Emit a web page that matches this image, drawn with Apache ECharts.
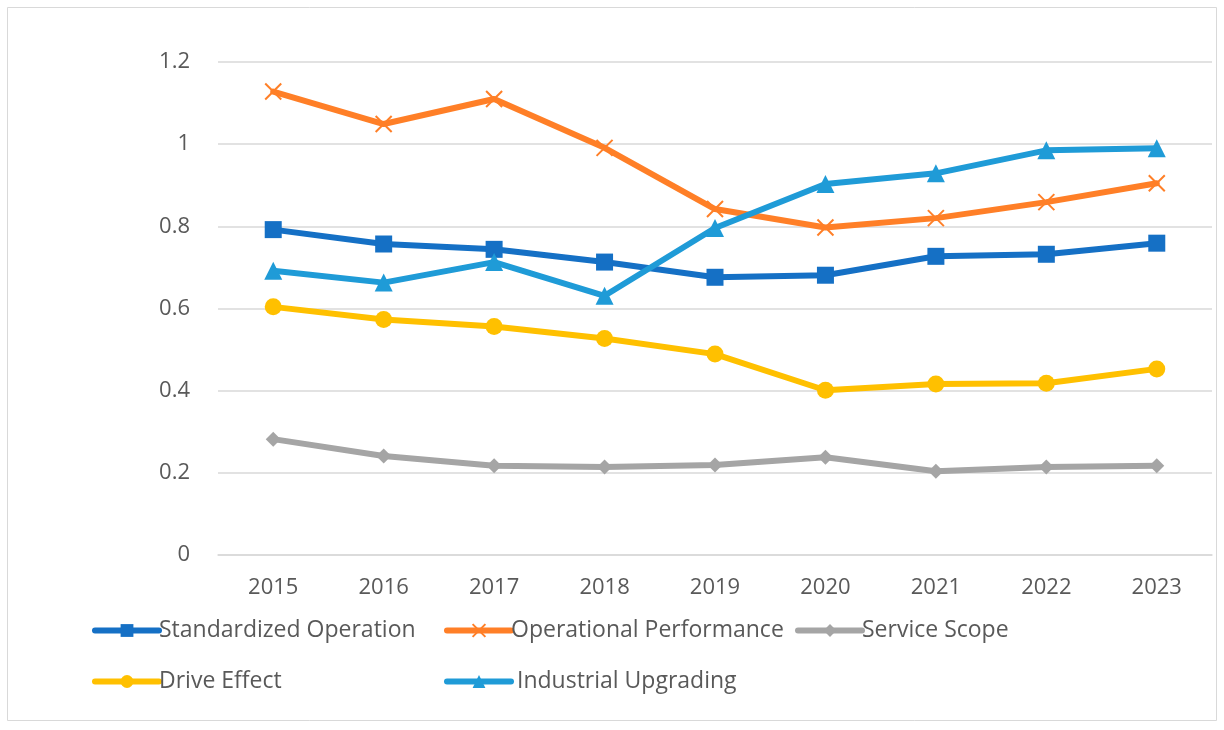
<!DOCTYPE html>
<html>
<head>
<meta charset="utf-8">
<script src="https://cdn.jsdelivr.net/npm/echarts@6/dist/echarts.min.js"></script>
<style>
  html, body { margin: 0; padding: 0; background: #fff; }
  #chart { width: 1224px; height: 730px; }
</style>
</head>
<body>
<div id="chart"></div>
<script>
const years = ['2015', '2016', '2017', '2018', '2019', '2020', '2021', '2022', '2023'];
const standardized = [0.792, 0.757, 0.744, 0.713, 0.676, 0.681, 0.727, 0.732, 0.759];
const operational = [1.128, 1.049, 1.110, 0.991, 0.842, 0.797, 0.820, 0.859, 0.905];
const serviceScope = [0.282, 0.241, 0.217, 0.214, 0.219, 0.238, 0.204, 0.214, 0.217];
const driveEffect = [0.604, 0.573, 0.556, 0.527, 0.489, 0.401, 0.416, 0.418, 0.453];
const industrial = [0.692, 0.663, 0.713, 0.631, 0.796, 0.903, 0.929, 0.985, 0.990];

const font = 'Open Sans, sans-serif';
const textColor = '#595959';

const myChart = echarts.init(document.getElementById('chart'));

function line(name, data, color, symbol, size, extra) {
    let s = {
        name: name,
        type: 'line',
        data: data,
        symbol: symbol,
        symbolSize: size,
        lineStyle: { color: color, width: 6, cap: 'round', join: 'round' },
        itemStyle: { color: color },
        emphasis: { disabled: true },
        animation: false
    };
    return Object.assign(s, extra || {});
}

const legendBase = {
    orient: 'vertical',
    top: 614,
    itemGap: 28,
    itemWidth: 64,
    itemHeight: 16,
    lineStyle: { width: 6, cap: 'round' },
    // Industrial Upgrading has a leading space in the original legend
    formatter: name => name === 'Industrial Upgrading' ? ' ' + name : name,
    textStyle: { fontFamily: font, fontSize: 23, color: textColor, padding: [0, 0, 0, -5] }
};

const option = {
    backgroundColor: '#fff',
    graphic: [{
        type: 'rect',
        shape: { x: 7.5, y: 7.5, width: 1209, height: 713 },
        style: { fill: 'none', stroke: '#d9d9d9', lineWidth: 1 },
        silent: true
    }],
    grid: { left: 218, right: 12, top: 62, bottom: 175 },
    legend: [
        Object.assign({ left: 87, data: ['Standardized Operation', 'Drive Effect'] }, legendBase),
        Object.assign({ left: 439, data: ['Operational Performance', 'Industrial Upgrading'] }, legendBase),
        Object.assign({ left: 790, data: ['Service Scope'] }, legendBase)
    ],
    xAxis: {
        type: 'category',
        data: years,
        boundaryGap: true,
        axisLine: { show: true, lineStyle: { color: '#d9d9d9', width: 1.5 } },
        axisTick: { show: false },
        axisLabel: { fontFamily: font, fontSize: 22, color: textColor, margin: 22 }
    },
    yAxis: {
        type: 'value',
        min: 0,
        max: 1.2,
        interval: 0.2,
        axisLine: { show: false },
        axisTick: { show: false },
        splitLine: { lineStyle: { color: '#d9d9d9', width: 1.5 } },
        axisLabel: {
            fontFamily: font, fontSize: 22, color: textColor, margin: 28,
            formatter: v => String(Math.round(v * 10) / 10)
        }
    },
    series: [
        line('Standardized Operation', standardized, '#1570c5', 'rect', 17),
        line('Operational Performance', operational, '#ff7f27',
            'path://M0,0 L10,10 M10,0 L0,10', 16,
            { itemStyle: { color: 'rgba(0,0,0,0)', borderColor: '#ff7f27', borderWidth: 2 } }),
        line('Service Scope', serviceScope, '#a5a5a5', 'diamond', 15),
        line('Drive Effect', driveEffect, '#ffc000', 'circle', 17),
        line('Industrial Upgrading', industrial, '#1f9bd7', 'triangle', 18)
    ]
};

myChart.setOption(option);
</script>
</body>
</html>
